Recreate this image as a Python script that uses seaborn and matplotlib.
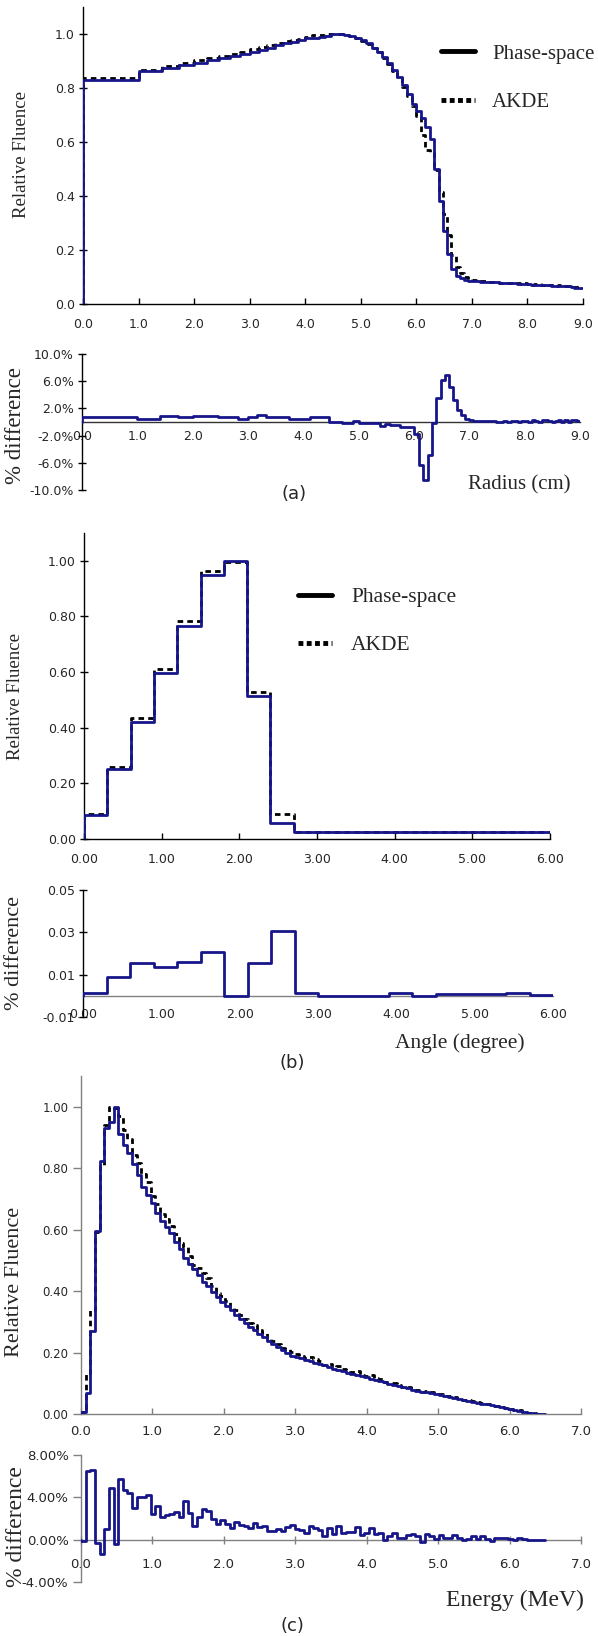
import numpy as np
import pandas as pd
import seaborn as sns
import matplotlib.pyplot as plt
from matplotlib.lines import Line2D
from matplotlib.ticker import FuncFormatter

# ---- (a) radial fluence, equal-area bins ----
A_EDGES = [0, 1, 1.414, 1.732, 2, 2.236, 2.449, 2.646, 2.828, 3, 3.162, 3.317, 3.464,
           3.606, 3.742, 3.873, 4, 4.123, 4.243, 4.359, 4.472, 4.583, 4.690, 4.796,
           4.899, 5, 5.099, 5.196, 5.292, 5.385, 5.477, 5.568, 5.657, 5.745, 5.831,
           5.916, 6, 6.083, 6.164, 6.245, 6.325, 6.403, 6.481, 6.557, 6.633, 6.708,
           6.782, 6.856, 6.928, 7, 7.071, 7.141, 7.211, 7.280, 7.348, 7.416, 7.483,
           7.550, 7.616, 7.681, 7.746, 7.810, 7.874, 7.937, 8, 8.062, 8.124, 8.185,
           8.246, 8.307, 8.367, 8.426, 8.485, 8.544, 8.602, 8.660, 8.718, 8.775,
           8.832, 8.888, 8.944, 9]
A_PS = [0.830, 0.862, 0.874, 0.884, 0.893, 0.902, 0.911, 0.919, 0.927, 0.935,
        0.942, 0.950, 0.958, 0.965, 0.972, 0.978, 0.984, 0.987, 0.990, 0.992,
        1.000, 1.000, 0.998, 0.993, 0.986, 0.977, 0.965, 0.950, 0.934, 0.916,
        0.893, 0.866, 0.840, 0.812, 0.778, 0.740, 0.715, 0.690, 0.655, 0.612,
        0.500, 0.380, 0.270, 0.185, 0.130, 0.105, 0.095, 0.090, 0.087,
        0.085, 0.084, 0.083, 0.082, 0.081, 0.080, 0.080, 0.079, 0.078, 0.077,
        0.076, 0.076, 0.075, 0.074, 0.074, 0.073, 0.072, 0.072, 0.071, 0.070,
        0.070, 0.069, 0.068, 0.068, 0.067, 0.066, 0.066, 0.065, 0.063, 0.061,
        0.060, 0.061]
A_AKDE = [0.838, 0.866, 0.883, 0.891, 0.902, 0.911, 0.919, 0.927, 0.932, 0.943,
          0.952, 0.958, 0.966, 0.973, 0.976, 0.983, 0.989, 0.995, 0.998, 1.000,
          1.000, 1.000, 0.997, 0.992, 0.987, 0.975, 0.963, 0.948, 0.932, 0.910,
          0.890, 0.862, 0.836, 0.804, 0.770, 0.732, 0.698, 0.627, 0.570, 0.563,
          0.498, 0.416, 0.332, 0.254, 0.182, 0.138, 0.113, 0.100, 0.091,
          0.088, 0.086, 0.085, 0.084, 0.083, 0.082, 0.082, 0.079, 0.078, 0.079,
          0.076, 0.078, 0.077, 0.074, 0.076, 0.075, 0.072, 0.075, 0.073, 0.070,
          0.073, 0.072, 0.070, 0.068, 0.069, 0.069, 0.066, 0.068, 0.063, 0.064,
          0.063, 0.063]
A_DIFF = [0.8, 0.4, 0.9, 0.7, 0.9, 0.9, 0.8, 0.8, 0.5, 0.8,
          1.0, 0.8, 0.8, 0.8, 0.4, 0.5, 0.5, 0.8, 0.8, 0.8,
          0.0, 0.0, -0.1, -0.1, 0.1, -0.2, -0.2, -0.2, -0.2, -0.6,
          -0.3, -0.4, -0.4, -0.8, -0.8, -0.8, -1.7, -6.3, -8.5, -4.9,
          -0.2, 3.6, 6.2, 6.9, 5.2, 3.3, 1.8, 1.0, 0.4,
          0.3, 0.2, 0.2, 0.2, 0.2, 0.2, 0.2, 0.0, 0.0, 0.2,
          0.0, 0.2, 0.2, 0.0, 0.2, 0.2, 0.0, 0.3, 0.2, 0.0,
          0.3, 0.3, 0.2, 0.0, 0.2, 0.3, 0.0, 0.3, 0.0, 0.3,
          0.3, 0.2]

# ---- (b) angular fluence ----
B_EDGES = [0.0, 0.3, 0.6, 0.9, 1.2, 1.5, 1.8, 2.1, 2.4, 2.7, 3.0,
           3.3, 3.6, 3.9, 4.2, 4.5, 4.8, 5.1, 5.4, 5.7, 6.0]
B_PS = [0.086, 0.250, 0.420, 0.596, 0.767, 0.949, 1.000, 0.514, 0.058, 0.024,
        0.024, 0.024, 0.024, 0.024, 0.024, 0.024, 0.024, 0.024, 0.024, 0.024]
B_AKDE = [0.090, 0.258, 0.436, 0.612, 0.785, 0.965, 0.995, 0.528, 0.090, 0.025,
          0.024, 0.024, 0.024, 0.025, 0.024, 0.024, 0.024, 0.024, 0.025, 0.024]
B_DIFF = [0.0013, 0.0090, 0.0154, 0.0138, 0.0159, 0.0209, 0.0000, 0.0154, 0.0307, 0.0013,
          0.0, 0.0, 0.0, 0.0015, 0.0, 0.0007, 0.0007, 0.0007, 0.0015, 0.0005]

# ---- (c) energy spectrum, 0.065 MeV bins ----
C_BIN = 0.065
C_PS = [0.008, 0.069, 0.271, 0.594, 0.822, 0.931, 0.950, 1.000, 0.912, 0.876,
        0.851, 0.814, 0.778, 0.740, 0.713, 0.686, 0.653, 0.629, 0.610, 0.588,
        0.561, 0.536, 0.507, 0.489, 0.471, 0.453, 0.431, 0.415, 0.398, 0.380,
        0.366, 0.352, 0.337, 0.323, 0.308, 0.295, 0.284, 0.274, 0.261, 0.249,
        0.239, 0.228, 0.217, 0.207, 0.198, 0.189, 0.185, 0.181, 0.177, 0.172,
        0.167, 0.162, 0.158, 0.153, 0.148, 0.143, 0.139, 0.135, 0.131, 0.127,
        0.123, 0.119, 0.115, 0.111, 0.107, 0.103, 0.099, 0.095, 0.091, 0.087,
        0.083, 0.079, 0.076, 0.073, 0.070, 0.067, 0.064, 0.061, 0.058, 0.055,
        0.052, 0.049, 0.046, 0.043, 0.040, 0.037, 0.034, 0.031, 0.028, 0.025,
        0.022, 0.019, 0.016, 0.013, 0.010, 0.007, 0.004, 0.002, 0.001, 0.000]
C_AKDE = [0.007, 0.134, 0.337, 0.591, 0.808, 0.941, 0.998, 0.996, 0.969, 0.923,
          0.895, 0.844, 0.818, 0.780, 0.755, 0.710, 0.685, 0.650, 0.633, 0.612,
          0.587, 0.557, 0.544, 0.514, 0.484, 0.474, 0.460, 0.442, 0.418, 0.395,
          0.385, 0.367, 0.348, 0.340, 0.322, 0.308, 0.295, 0.290, 0.273, 0.262,
          0.247, 0.236, 0.227, 0.216, 0.210, 0.203, 0.195, 0.190, 0.183, 0.185,
          0.178, 0.171, 0.161, 0.164, 0.153, 0.156, 0.145, 0.142, 0.138, 0.139,
          0.127, 0.125, 0.126, 0.116, 0.113, 0.103, 0.102, 0.101, 0.093, 0.089,
          0.087, 0.084, 0.079, 0.071, 0.075, 0.070, 0.065, 0.065, 0.060, 0.057,
          0.056, 0.051, 0.046, 0.044, 0.043, 0.038, 0.037, 0.032, 0.027, 0.027,
          0.024, 0.021, 0.017, 0.013, 0.012, 0.008, 0.004, 0.002, 0.001, 0.000]
C_DIFF = [-0.1, 6.5, 6.6, -0.3, -1.4, 1.0, 4.9, -0.4, 5.7, 4.7,
          4.4, 3.0, 4.0, 4.0, 4.2, 2.4, 3.2, 2.1, 2.3, 2.4,
          2.6, 2.1, 3.7, 2.5, 1.3, 2.1, 2.9, 2.7, 2.0, 1.5,
          1.9, 1.5, 1.1, 1.7, 1.4, 1.3, 1.1, 1.6, 1.2, 1.3,
          0.8, 0.8, 1.0, 0.85, 1.2, 1.4, 1.0, 0.9, 0.6, 1.25,
          1.1, 0.9, 0.3, 1.1, 0.5, 1.3, 0.6, 0.7, 0.7, 1.2,
          0.4, 0.6, 1.1, 0.5, 0.6, 0.0, 0.3, 0.6, 0.2, 0.2,
          0.4, 0.5, 0.3, -0.2, 0.5, 0.3, 0.1, 0.4, 0.2, 0.2,
          0.4, 0.2, 0.0, 0.1, 0.3, 0.1, 0.3, 0.1, -0.1, 0.2,
          0.2, 0.2, 0.1, 0.0, 0.2, 0.1, 0.0, 0.0, 0.0, 0.0]
C_EDGES = np.round(np.arange(len(C_PS) + 1) * C_BIN, 3)

W, H = 598, 1636
NAVY = '#16168a'
SERIF = ['Liberation Serif', 'DejaVu Serif']

sns.set_style('ticks')
plt.rcParams['font.family'] = ['DejaVu Sans']

fig = plt.figure(figsize=(W / 100, H / 100), dpi=100)


def px_axes(l, t, r, b):
    return fig.add_axes([l / W, 1 - b / H, (r - l) / W, (b - t) / H])


def steps(ax, edges, vals, **kws):
    # start from the baseline at the first edge, hold the last value to the last edge
    xs = [edges[0]] + list(edges)
    ys = [0.0] + list(vals) + [vals[-1]]
    sns.lineplot(x=xs, y=ys, ax=ax, estimator=None, sort=False,
                 drawstyle='steps-post', **kws)
    ax.set(xlabel='', ylabel='')


def style(ax, col, ysize=9, xsize=9, ydir='inout'):
    for s in ['top', 'right']:
        ax.spines[s].set_visible(False)
    for s in ['left', 'bottom']:
        ax.spines[s].set_color(col)
        ax.spines[s].set_linewidth(1.0)
    ax.tick_params(axis='y', direction=ydir, length=6, width=1, color=col,
                   labelsize=ysize, pad=3)
    ax.tick_params(axis='x', direction='in', length=4, width=1, color=col,
                   labelsize=xsize)


def fmt(f):
    return FuncFormatter(lambda v, p: f % v)


def ftext(x, y, s, size, fam=SERIF, rot=0):
    fig.text(x / W, 1 - y / H, s, ha='center', va='center', rotation=rot,
             fontsize=size, family=fam)


def legend(x, y, hl, tp, ls, size=15):
    handles = [Line2D([], [], color='black', lw=3.5),
               Line2D([], [], color='black', lw=3.5, linestyle=(0, (1.0, 0.7)))]
    fig.legend(handles, ['Phase-space', 'AKDE'], loc='upper left',
               bbox_to_anchor=(x / W, 1 - y / H), frameon=False,
               prop={'family': SERIF, 'size': size}, handlelength=hl,
               handletextpad=tp, labelspacing=ls, borderpad=0, borderaxespad=0)


DASH = dict(color='black', lw=2.0, linestyle=(0, (2.0, 1.5)), zorder=2)
SOLID = dict(color=NAVY, lw=2.0, zorder=3)

# ---------- (a) ----------
ax = px_axes(83, 7, 583, 304)
steps(ax, A_EDGES, A_AKDE, **DASH)
steps(ax, A_EDGES, A_PS, **SOLID)
ax.set_xlim(0, 9)
ax.set_ylim(0, 1.1)
ax.set_xticks(np.arange(0, 9.5, 1.0))
ax.set_yticks(np.arange(0, 1.05, 0.2))
ax.xaxis.set_major_formatter(fmt('%.1f'))
ax.yaxis.set_major_formatter(fmt('%.1f'))
style(ax, 'black')
ax.tick_params(axis='x', pad=10)

ax = px_axes(82, 354, 580, 490)
steps(ax, A_EDGES, A_DIFF, color=NAVY, lw=2.0, zorder=3)
ax.set_xlim(0, 9)
ax.set_ylim(-10, 10)
ax.set_xticks(np.arange(0, 9.5, 1.0))
ax.set_yticks([-10, -6, -2, 2, 6, 10])
ax.xaxis.set_major_formatter(fmt('%.1f'))
ax.yaxis.set_major_formatter(fmt('%.1f%%'))
style(ax, 'black')
ax.spines['bottom'].set_position(('data', 0))
ax.spines['bottom'].set_color('#333333')
ax.tick_params(axis='x', length=0, pad=6)

# ---------- (b) ----------
ax = px_axes(84, 533, 550, 839)
steps(ax, B_EDGES, B_AKDE, **DASH)
steps(ax, B_EDGES, B_PS, **SOLID)
ax.set_xlim(0, 6)
ax.set_ylim(0, 1.1)
ax.set_xticks(np.arange(0, 6.5, 1.0))
ax.set_yticks(np.arange(0, 1.05, 0.2))
ax.xaxis.set_major_formatter(fmt('%.2f'))
ax.yaxis.set_major_formatter(fmt('%.2f'))
style(ax, 'black')
ax.tick_params(axis='x', pad=10)

ax = px_axes(83, 890, 553, 1017)
steps(ax, B_EDGES, B_DIFF, color=NAVY, lw=2.0, zorder=3)
ax.set_xlim(0, 6)
ax.set_ylim(-0.01, 0.05)
ax.set_xticks(np.arange(0, 6.5, 1.0))
ax.set_yticks([-0.01, 0.01, 0.03, 0.05])
ax.xaxis.set_major_formatter(fmt('%.2f'))
ax.yaxis.set_major_formatter(fmt('%.2f'))
style(ax, 'black')
ax.spines['bottom'].set_position(('data', 0))
ax.spines['bottom'].set_color('#808080')
ax.tick_params(axis='x', length=0, pad=9)

# ---------- (c) ----------
ax = px_axes(81, 1076, 581, 1414)
steps(ax, C_EDGES, C_AKDE, **DASH)
steps(ax, C_EDGES, C_PS, **SOLID)
ax.set_xlim(0, 7)
ax.set_ylim(0, 1.1)
ax.set_xticks(np.arange(0, 7.5, 1.0))
ax.set_yticks(np.arange(0, 1.05, 0.2))
ax.xaxis.set_major_formatter(fmt('%.1f'))
ax.yaxis.set_major_formatter(fmt('%.2f'))
style(ax, '#808080', ysize=8.5, xsize=9.5, ydir='out')
ax.tick_params(axis='x', pad=8)

ax = px_axes(81, 1455, 581, 1582)
steps(ax, C_EDGES, C_DIFF, color=NAVY, lw=2.0, zorder=3)
ax.set_xlim(0, 7)
ax.set_ylim(-4, 8)
ax.set_xticks(np.arange(0, 7.5, 1.0))
ax.set_yticks([-4, 0, 4, 8])
ax.xaxis.set_major_formatter(fmt('%.1f'))
ax.yaxis.set_major_formatter(fmt('%.2f%%'))
style(ax, '#808080', ysize=9.5, xsize=9.5, ydir='out')
ax.spines['bottom'].set_position(('data', 0))
ax.tick_params(axis='x', direction='inout', length=6, pad=10)

# ---------- labels and legends ----------
ftext(22, 155, 'Relative Fluence', 13.5, rot=90)
ftext(16, 426, '% difference', 16.5, rot=90)
ftext(519, 485, 'Radius (cm)', 15)
ftext(294, 494, '(a)', 13, fam=['DejaVu Sans'])
legend(441, 44, 1.63, 0.82, 1.4)

ftext(16, 696, 'Relative Fluence', 13.5, rot=90)
ftext(15, 953, '% difference', 16, rot=90)
ftext(460, 1043, 'Angle (degree)', 15.5)
ftext(292, 1063, '(b)', 13, fam=['DejaVu Sans'])
legend(298, 587, 1.6, 0.87, 1.3, size=15.5)

ftext(15, 1282, 'Relative Fluence', 16, rot=90)
ftext(17, 1527, '% difference', 17, rot=90)
ftext(515, 1600, 'Energy (MeV)', 17)
ftext(292, 1626, '(c)', 13, fam=['DejaVu Sans'])

fig.savefig('out.png', dpi=100)
